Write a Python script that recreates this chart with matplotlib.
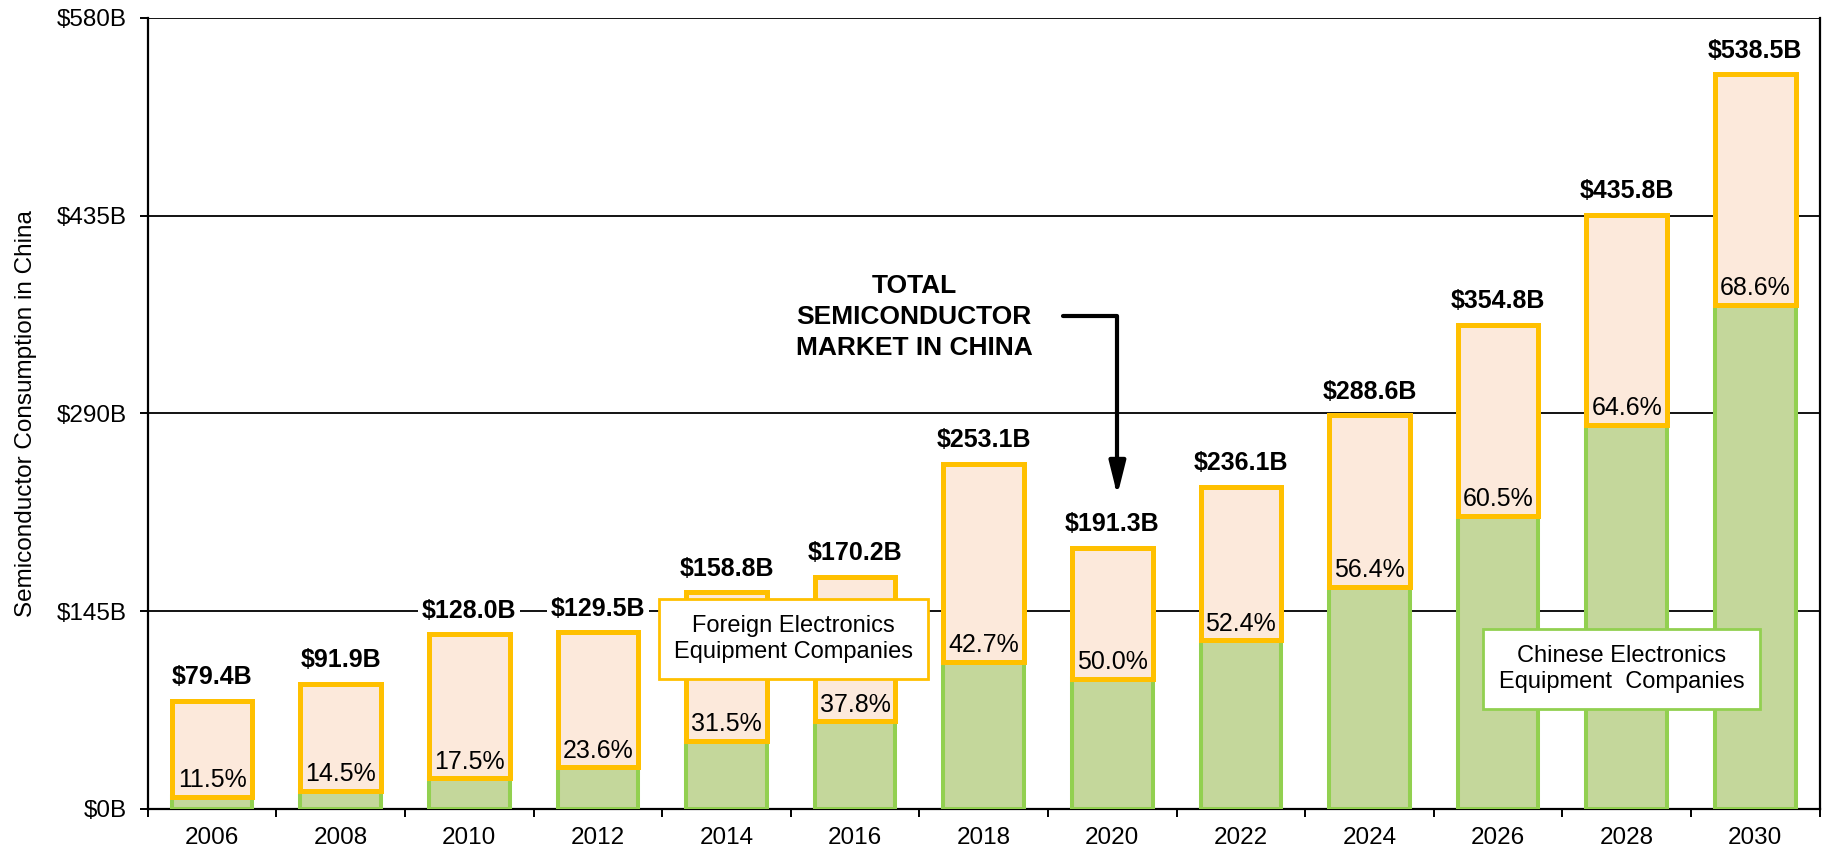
import matplotlib
matplotlib.use("Agg")
import matplotlib.pyplot as plt
import numpy as np

plt.rcParams.update({"font.family": ["Liberation Sans", "DejaVu Sans"]})

years = ["2006", "2008", "2010", "2012", "2014", "2016", "2018",
         "2020", "2022", "2024", "2026", "2028", "2030"]
totals = [79.4, 91.9, 128.0, 129.5, 158.8, 170.2, 253.1,
          191.3, 236.1, 288.6, 354.8, 435.8, 538.5]
china_pct = [11.5, 14.5, 17.5, 23.6, 31.5, 37.8, 42.7,
             50.0, 52.4, 56.4, 60.5, 64.6, 68.6]
yticks = [0, 145, 290, 435, 580]

C = {"orange": "#FFC000", "peach": "#FCE9DB", "green": "#C4D79B",
     "gedge": "#92D050", "ink": "#000000"}

x = np.arange(len(years))
tot = np.array(totals)
chn = tot * np.array(china_pct) / 100
frn = tot - chn

fig = plt.figure(figsize=(18.25, 8.52), dpi=100)
ax = fig.add_axes([0.081, 0.0505, 0.916, 0.9285])

w = 0.627
ax.bar(x, chn, w, color=C["green"], edgecolor=C["gedge"], lw=2.9, zorder=3)
ax.bar(x, frn, w, bottom=chn, color=C["peach"], edgecolor=C["orange"], lw=3.6, zorder=4)

for xi, t, c, p in zip(x, tot, chn, china_pct):
    ax.annotate(f"${t:.1f}B", (xi, t), xytext=(0, 12), textcoords="offset points",
                ha="center", va="baseline", fontsize=18, fontweight="bold", zorder=6,
                bbox=dict(boxstyle="square,pad=0.15", fc="white", ec="none"))
    ax.annotate(f"{p:.1f}%", (xi, c), xytext=(0, 7), textcoords="offset points",
                ha="center", va="baseline", fontsize=18, zorder=6)

ax.set_xlim(-0.5, len(years) - 0.5)
ax.set_ylim(0, 580)
ax.set_yticks(yticks)
ax.set_yticklabels([f"${v}B" for v in yticks], fontsize=17.5)
ax.yaxis.grid(True, color="black", lw=1.3, zorder=0)
ax.set_axisbelow(True)
ax.set_xticks(np.arange(len(years) + 1) - 0.5)
ax.set_xticklabels([])
ax.set_xticks(x, minor=True)
ax.set_xticklabels(years, minor=True, fontsize=17.5)
ax.tick_params(axis="x", which="major", length=6, width=1.4, direction="out")
ax.tick_params(axis="x", which="minor", length=0, pad=13)
ax.tick_params(axis="y", length=6, width=1.4, direction="out", pad=9)
ax.spines["top"].set_visible(False)
for s in ["left", "bottom", "right"]:
    ax.spines[s].set_linewidth(1.6)
ax.set_ylabel("Semiconductor Consumption in China", fontsize=17.5, labelpad=14)

# callout for total market
ax.text(5.46, 360.5, "TOTAL\nSEMICONDUCTOR\nMARKET IN CHINA", ha="center", va="center",
        fontsize=19, fontweight="bold", linespacing=1.36, zorder=7)
ax.annotate("", xy=(7.04, 230), xytext=(6.62, 361.5),
            arrowprops=dict(arrowstyle="-|>,head_width=0.25,head_length=1.0",
                            connectionstyle="angle,angleA=0,angleB=90,rad=0",
                            mutation_scale=20, color="black", lw=3,
                            shrinkA=0, shrinkB=0), zorder=7)

ax.text(4.52, 124.6, "Foreign Electronics\nEquipment Companies", ha="center", va="center",
        fontsize=17, linespacing=1.28, zorder=8,
        bbox=dict(boxstyle="square,pad=0.65", fc="white", ec=C["orange"], lw=2))
ax.text(10.96, 102.6, "Chinese Electronics\nEquipment  Companies", ha="center", va="center",
        fontsize=17, linespacing=1.28, zorder=8,
        bbox=dict(boxstyle="square,pad=0.65", fc="white", ec=C["gedge"], lw=2))

fig.savefig("out.png", dpi=100)
